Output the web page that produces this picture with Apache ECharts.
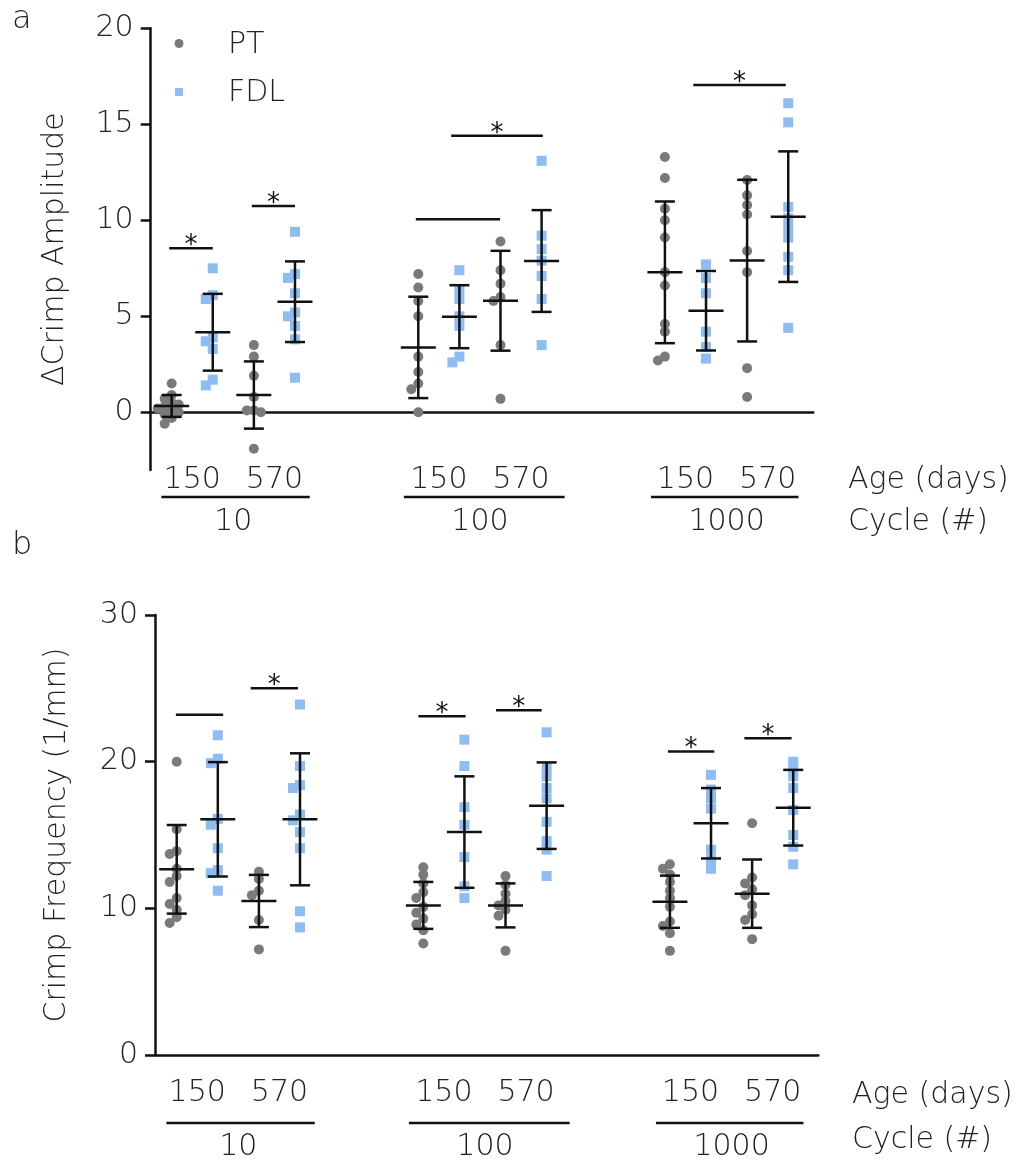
<!DOCTYPE html>
<html>
<head>
<meta charset="utf-8">
<script src="https://cdn.jsdelivr.net/npm/echarts@6/dist/echarts.min.js"></script>
<style>
  html, body { margin: 0; padding: 0; background: #ffffff; }
  #chart { width: 1022px; height: 1165px; }
</style>
</head>
<body>
<div id="chart"></div>
<script>
// ---- labels ----
const ageLabels = ['150', '570'];
const cycleLabels = ['10', '100', '1000'];
const tendonNames = ['PT', 'FDL'];

// ---- panel a: ΔCrimp Amplitude, groups ordered (cycle, age): 10/150, 10/570, 100/150, 100/570, 1000/150, 1000/570 ----
const ampPT = [
  [1.5, 0.9, 0.7, 0.5, 0.4, 0.3, 0.2, 0.1, 0.0, -0.1, -0.3, -0.6],
  [3.5, 2.9, 1.9, 0.8, 0.1, 0.0, 0.1, -1.9],
  [7.2, 6.5, 5.8, 5.0, 2.9, 2.1, 1.5, 1.2, 0.0],
  [8.9, 7.4, 6.7, 6.0, 5.8, 3.5, 0.7],
  [13.3, 12.2, 10.6, 10.0, 9.1, 7.3, 6.6, 4.6, 4.2, 2.9, 2.7],
  [12.1, 11.3, 10.8, 10.3, 8.4, 7.3, 2.3, 0.8]
];
const ampFDL = [
  [7.5, 6.1, 5.9, 3.9, 3.7, 3.3, 1.7, 1.4],
  [9.4, 7.2, 7.0, 6.2, 5.2, 5.0, 4.5, 3.8, 1.8],
  [7.4, 6.4, 5.9, 5.0, 4.5, 2.9, 2.6],
  [13.1, 9.2, 8.5, 7.9, 7.1, 5.9, 3.5],
  [7.7, 7.0, 6.2, 4.2, 3.4, 2.8],
  [16.1, 15.1, 10.7, 10.1, 9.6, 9.1, 8.1, 7.4, 4.4]
];
const ampPTMean = [0.33, 0.9, 3.38, 5.81, 7.29, 7.9];
const ampPTSD = [0.57, 1.75, 2.64, 2.6, 3.69, 4.21];
const ampFDLMean = [4.17, 5.76, 4.98, 7.88, 5.29, 10.19];
const ampFDLSD = [2.0, 2.1, 1.64, 2.65, 2.07, 3.4];
// comparison bars: [from slot, to slot, height, mark]
const ampBrackets = [
  [-0.06, 1.0, 8.54, '*'],
  [1.95, 3.0, 10.74, '*'],
  [5.94, 7.99, 10.05, ''],
  [6.8, 9.03, 14.4, '*'],
  [12.69, 14.94, 17.05, '*']
];
const ampTicks = [0, 5, 10, 15, 20];

// ---- panel b: Crimp Frequency (1/mm) ----
const frqPT = [
  [20.0, 15.4, 13.9, 13.7, 12.7, 12.2, 11.8, 10.7, 10.3, 9.9, 9.4, 9.0],
  [12.5, 12.0, 11.2, 10.9, 9.2, 7.2],
  [12.8, 12.3, 11.7, 11.1, 10.7, 10.1, 9.7, 9.3, 8.9, 8.5, 7.6],
  [12.2, 11.6, 11.0, 10.5, 10.2, 9.9, 9.5, 7.1],
  [13.0, 12.7, 12.3, 11.8, 11.2, 10.7, 10.1, 9.1, 8.8, 8.3, 7.1],
  [15.8, 12.1, 11.7, 11.3, 10.9, 10.2, 9.6, 9.2, 7.9]
];
const frqFDL = [
  [21.8, 20.2, 19.9, 16.1, 15.7, 14.1, 12.6, 12.4, 11.2],
  [23.9, 19.7, 18.4, 18.2, 16.4, 16.0, 15.2, 14.1, 9.8, 8.7],
  [21.5, 19.7, 16.9, 15.7, 13.5, 11.5, 10.7],
  [22.0, 19.6, 19.0, 18.2, 17.5, 15.9, 14.6, 14.0, 12.2],
  [19.1, 18.1, 17.5, 16.8, 14.0, 13.3, 12.7],
  [20.0, 19.5, 19.0, 18.2, 16.7, 15.0, 14.2, 13.0]
];
const frqPTMean = [12.66, 10.5, 10.2, 10.2, 10.45, 11.0];
const frqPTSD = [3.02, 1.78, 1.6, 1.5, 1.78, 2.33];
const frqFDLMean = [16.07, 16.07, 15.2, 17.0, 15.8, 16.86];
const frqFDLSD = [3.9, 4.5, 3.8, 2.95, 2.4, 2.58];
const frqBrackets = [
  [-0.02, 1.13, 23.2, ''],
  [1.8, 2.95, 25.0, '*'],
  [5.88, 7.03, 23.1, '*'],
  [7.77, 8.88, 23.5, '*'],
  [11.95, 13.08, 20.7, '*'],
  [13.81, 14.96, 21.6, '*']
];
const frqTicks = [0, 10, 20, 30];

// ---- layout ----
const FONT = '"DejaVu Sans", sans-serif';
const TEXT = '#222222';
const INK = '#111111';
const GRAY = '#7a7a7a';
const BLUE = '#8dbdf3';
const SLOT_PX = 41.1;
const GRID_A = { left: 150.7, top: 28.3, width: 662.6, height: 441.6 };
const GRID_B = { left: 155, top: 615, width: 663.3, height: 440 };
const RANGE_A = [-3, 20];
const RANGE_B = [0, 30];
const X_A = [-0.51, 15.61];
const X_B = [-0.528, 15.61];
const underlineSpan = [[-0.25, 3.36], [5.65, 9.56], [11.66, 15.25]];

// x slot of each group: PT at cycle*6 + age*2, FDL one slot to the right
const slotOf = (g, tendon) => Math.floor(g / 2) * 6 + (g % 2) * 2 + tendon;

// spread tied points sideways so that overlapping markers stay visible
function swarm(values, slot, pxPerUnit) {
  const step = 7, minDist = 6.5;
  const placed = [];
  const order = values.map((v, i) => i).sort((a, b) => values[b] - values[a]);
  const out = new Array(values.length);
  for (const i of order) {
    const y = values[i] * pxPerUnit;
    let best = 0, bestD = -1;
    for (const k of [0, -1, 1, -2, 2]) {
      const x = k * step;
      let dmin = Infinity;
      for (const p of placed) dmin = Math.min(dmin, Math.hypot(p[0] - x, p[1] - y));
      if (dmin >= minDist) { best = x; break; }
      if (dmin > bestD) { bestD = dmin; best = x; }
    }
    placed.push([best, y]);
    out[i] = [slot + best / SLOT_PX, values[i]];
  }
  return out;
}

function pointSeries(gi, groups, tendon, pxPerUnit) {
  const data = [];
  groups.forEach((vals, g) => data.push(...swarm(vals, slotOf(g, tendon), pxPerUnit)));
  return {
    type: 'scatter', name: tendonNames[tendon], xAxisIndex: gi, yAxisIndex: gi,
    symbol: tendon === 0 ? 'circle' : 'rect', symbolSize: 10,
    itemStyle: { color: tendon === 0 ? GRAY : BLUE, opacity: 1 },
    data, z: 2, silent: true
  };
}

function errorSeries(gi, means, sds, tendon) {
  return {
    type: 'custom', xAxisIndex: gi, yAxisIndex: gi, z: 4, silent: true,
    data: means.map((m, g) => [slotOf(g, tendon), m, sds[g]]),
    renderItem(params, api) {
      const x = api.value(0), m = api.value(1), s = api.value(2);
      const c = api.coord([x, m]);
      const hi = api.coord([x, m + s]);
      const lo = api.coord([x, m - s]);
      const style = { stroke: INK, lineWidth: 2.5 };
      return {
        type: 'group', children: [
          { type: 'line', shape: { x1: c[0], y1: hi[1], x2: c[0], y2: lo[1] }, style },
          { type: 'line', shape: { x1: c[0] - 10, y1: hi[1], x2: c[0] + 10, y2: hi[1] }, style },
          { type: 'line', shape: { x1: c[0] - 10, y1: lo[1], x2: c[0] + 10, y2: lo[1] }, style },
          { type: 'line', shape: { x1: c[0] - 17.5, y1: c[1], x2: c[0] + 17.5, y2: c[1] }, style }
        ]
      };
    }
  };
}

function bracketSeries(gi, brackets) {
  return {
    type: 'custom', xAxisIndex: gi, yAxisIndex: gi, z: 5, silent: true, clip: false,
    data: brackets.map(b => [b[0], b[1], b[2]]),
    renderItem(params, api) {
      const a = api.coord([api.value(0), api.value(2)]);
      const b = api.coord([api.value(1), api.value(2)]);
      const mark = brackets[params.dataIndex][3];
      const children = [
        { type: 'line', shape: { x1: a[0], y1: a[1], x2: b[0], y2: b[1] }, style: { stroke: INK, lineWidth: 2.5 } }
      ];
      if (mark) {
        children.push({
          type: 'text', x: (a[0] + b[0]) / 2, y: a[1] - 2,
          style: { text: mark, fill: INK, font: '26px ' + FONT, align: 'center', verticalAlign: 'middle' }
        });
      }
      return { type: 'group', children };
    }
  };
}

function groupLabelSeries(gi, yMin, offsets) {
  return {
    type: 'custom', xAxisIndex: gi, yAxisIndex: gi, z: 5, silent: true, clip: false,
    data: cycleLabels.map((c, i) => [i * 6, i]),
    renderItem(params, api) {
      const x0 = api.value(0), ci = api.value(1);
      const base = api.coord([x0, yMin])[1];
      const font = '300 30px ' + FONT;
      const span = underlineSpan[ci];
      const l = api.coord([span[0], yMin])[0];
      const r = api.coord([span[1], yMin])[0];
      const children = ageLabels.map((t, k) => ({
        type: 'text', x: api.coord([x0 + 0.5 + 2 * k, yMin])[0], y: base + offsets[0],
        style: { text: t, fill: TEXT, font, align: 'center', verticalAlign: 'middle' }
      }));
      children.push({ type: 'line', shape: { x1: l, y1: base + offsets[1], x2: r, y2: base + offsets[1] }, style: { stroke: INK, lineWidth: 2.5 } });
      children.push({
        type: 'text', x: api.coord([x0 + 1.5, yMin])[0], y: base + offsets[2],
        style: { text: cycleLabels[ci], fill: TEXT, font, align: 'center', verticalAlign: 'middle' }
      });
      return { type: 'group', children };
    }
  };
}

function yAxis(gi, range, ticks, name, nameGap) {
  return {
    gridIndex: gi, type: 'value', min: range[0], max: range[1],
    axisLine: { show: true, onZero: false, lineStyle: { color: INK, width: 2.5 } },
    axisTick: { show: true, inside: false, length: 10, customValues: ticks, lineStyle: { color: INK, width: 2.5 } },
    axisLabel: { customValues: ticks, margin: 17, color: TEXT, fontSize: 30, fontWeight: 300, fontFamily: FONT },
    splitLine: { show: false },
    name, nameLocation: 'middle', nameGap, nameRotate: 90,
    nameTextStyle: { color: TEXT, fontSize: 30, fontWeight: 300, fontFamily: FONT }
  };
}

function xAxis(gi, range) {
  return {
    gridIndex: gi, type: 'value', min: range[0], max: range[1],
    axisLine: { show: true, onZero: true, lineStyle: { color: INK, width: 2.5 } },
    axisTick: { show: false }, axisLabel: { show: false }, splitLine: { show: false }
  };
}

const pxA = GRID_A.height / (RANGE_A[1] - RANGE_A[0]);
const pxB = GRID_B.height / (RANGE_B[1] - RANGE_B[0]);
const textStyle = (s) => Object.assign({ fill: TEXT, font: '300 30px ' + FONT }, s);

const chart = echarts.init(document.getElementById('chart'), null, { renderer: 'canvas' });
chart.setOption({
  backgroundColor: '#ffffff',
  animation: false,
  grid: [
    Object.assign({ outerBoundsMode: 'none', containLabel: false }, GRID_A),
    Object.assign({ outerBoundsMode: 'none', containLabel: false }, GRID_B)
  ],
  xAxis: [xAxis(0, X_A), xAxis(1, X_B)],
  yAxis: [
    yAxis(0, RANGE_A, ampTicks, 'ΔCrimp Amplitude', 80),
    yAxis(1, RANGE_B, frqTicks, 'Crimp Frequency (1/mm)', 83)
  ],
  series: [
    pointSeries(0, ampPT, 0, pxA),
    pointSeries(0, ampFDL, 1, pxA),
    errorSeries(0, ampPTMean, ampPTSD, 0),
    errorSeries(0, ampFDLMean, ampFDLSD, 1),
    bracketSeries(0, ampBrackets),
    groupLabelSeries(0, RANGE_A[0], [10, 27, 52]),
    pointSeries(1, frqPT, 0, pxB),
    pointSeries(1, frqFDL, 1, pxB),
    errorSeries(1, frqPTMean, frqPTSD, 0),
    errorSeries(1, frqFDLMean, frqFDLSD, 1),
    bracketSeries(1, frqBrackets),
    groupLabelSeries(1, RANGE_B[0], [38, 68, 92])
  ],
  graphic: [
    { type: 'text', left: 12, top: 4, style: textStyle({ text: 'a', font: '300 32px ' + FONT }) },
    { type: 'text', left: 12, top: 530, style: textStyle({ text: 'b', font: '300 32px ' + FONT }) },
    // legend
    { type: 'circle', shape: { cx: 179, cy: 43.5, r: 4.5 }, style: { fill: GRAY } },
    { type: 'rect', shape: { x: 175, y: 88, width: 8, height: 8 }, style: { fill: BLUE } },
    { type: 'text', x: 228, y: 45, style: textStyle({ text: tendonNames[0], verticalAlign: 'middle' }) },
    { type: 'text', x: 228, y: 93, style: textStyle({ text: tendonNames[1], verticalAlign: 'middle' }) },
    // axis captions on the right
    { type: 'text', x: 848, y: 480, style: textStyle({ text: 'Age (days)', verticalAlign: 'middle' }) },
    { type: 'text', x: 848, y: 522, style: textStyle({ text: 'Cycle (#)', verticalAlign: 'middle' }) },
    { type: 'text', x: 852, y: 1095, style: textStyle({ text: 'Age (days)', verticalAlign: 'middle' }) },
    { type: 'text', x: 852, y: 1140, style: textStyle({ text: 'Cycle (#)', verticalAlign: 'middle' }) }
  ]
});
</script>
</body>
</html>
